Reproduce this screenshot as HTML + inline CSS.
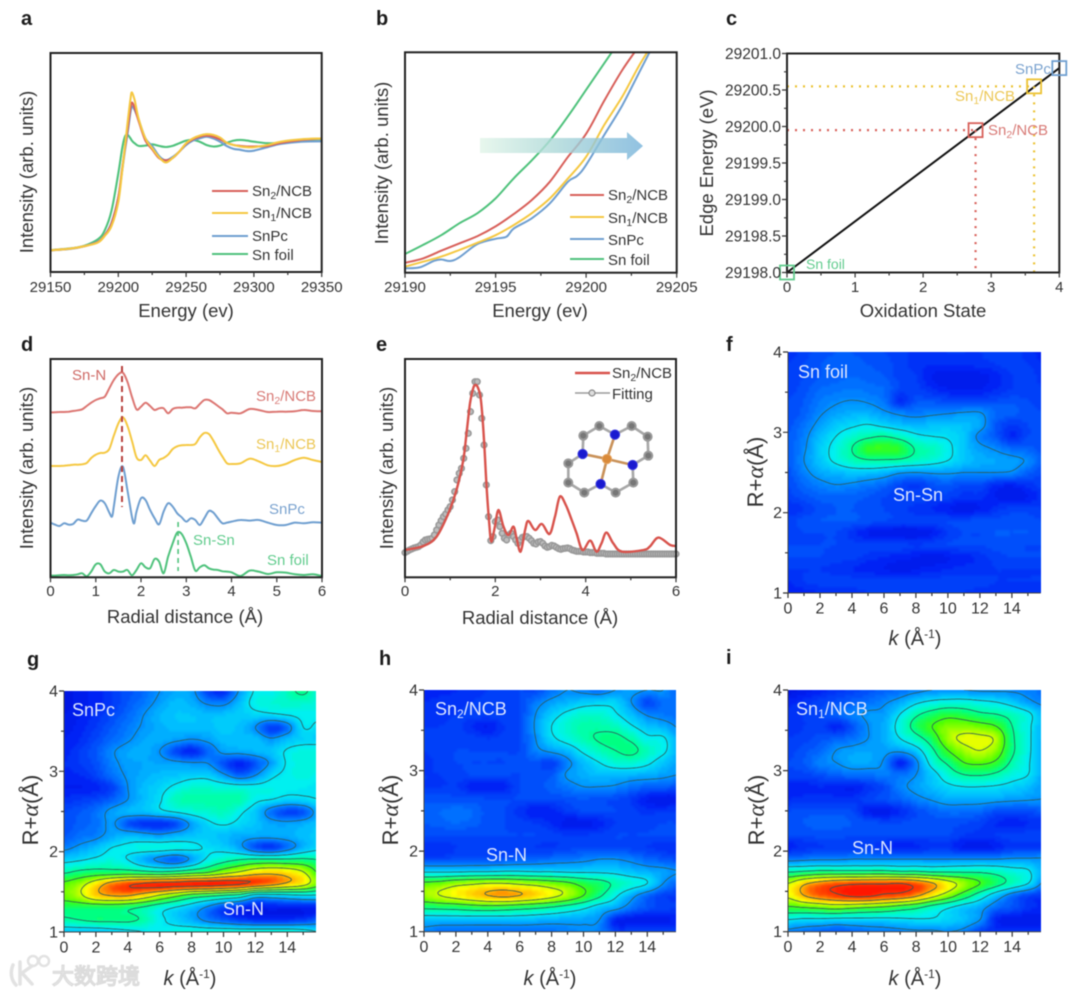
<!DOCTYPE html>
<html lang="en">
<head>
<meta charset="utf-8">
<title>Sn XAS panel figure</title>
<style>
html,body{margin:0;padding:0;background:#fff;width:1080px;height:997px;overflow:hidden}
#fig{display:block;filter:blur(0.45px)}
text{font-family:"Liberation Sans","Noto Sans CJK SC",sans-serif;fill:#333}
.letter{font-weight:bold;font-size:20px;fill:#1c1c1c}
.title{font-size:18.5px}
.htitle{font-size:20px}
.rtitle{font-size:22px}
.leg{font-size:15px}
.lab{font-size:15px}
.hl{font-size:18px;fill:#dde6ff}
.ser{font-family:"Liberation Serif",serif;font-style:italic}
</style>
</head>
<body>
<svg id="fig" xmlns="http://www.w3.org/2000/svg" width="1080" height="997" viewBox="0 0 1080 997">
<defs>
<clipPath id="clipB"><rect x="405" y="52" width="272" height="221"/></clipPath>
<clipPath id="clipF"><rect x="788" y="352" width="253" height="241"/></clipPath>
<clipPath id="clipG"><rect x="64" y="691" width="252" height="241"/></clipPath>
<clipPath id="clipH"><rect x="424" y="690" width="252" height="242"/></clipPath>
<clipPath id="clipI"><rect x="788" y="690" width="253" height="242"/></clipPath>
<filter id="soft" x="-2%" y="-2%" width="104%" height="104%"><feGaussianBlur stdDeviation="1"/></filter>
<linearGradient id="arrowGrad" x1="0" x2="1" y1="0" y2="0"><stop offset="0" stop-color="#e2f5e9"/><stop offset="0.45" stop-color="#add9d8"/><stop offset="1" stop-color="#75b2da"/></linearGradient>
</defs>

<text class="letter" x="21" y="25">a</text>
<text class="letter" x="376" y="25">b</text>
<text class="letter" x="726" y="25">c</text>
<text class="letter" x="21" y="351">d</text>
<text class="letter" x="376" y="351">e</text>
<text class="letter" x="726" y="351">f</text>
<text class="letter" x="27" y="666">g</text>
<text class="letter" x="379" y="665">h</text>
<text class="letter" x="726" y="664">i</text>

<g id="plots"></g>

<polygon points="480,138 627,138 627,132 643,146 627,160 627,153 480,153" fill="url(#arrowGrad)" opacity="0.8"/>

<!-- axis titles -->
<text class="title" x="186" y="317" text-anchor="middle">Energy (ev)</text>
<text class="title" x="540" y="317" text-anchor="middle">Energy (ev)</text>
<text class="title" x="923" y="317" text-anchor="middle">Oxidation State</text>
<text class="title" x="185" y="623" text-anchor="middle">Radial distance (Å)</text>
<text class="title" x="540" y="624" text-anchor="middle">Radial distance (Å)</text>
<text class="title" transform="translate(33,172) rotate(-90)" text-anchor="middle">Intensity (arb. units)</text>
<text class="title" transform="translate(388,163) rotate(-90)" text-anchor="middle">Intensity (arb. units)</text>
<text class="title" transform="translate(713,163) rotate(-90)" text-anchor="middle">Edge Energy (eV)</text>
<text class="title" transform="translate(33,468) rotate(-90)" text-anchor="middle">Intensity (arb. units)</text>
<text class="title" transform="translate(393,468) rotate(-90)" text-anchor="middle">Intensity (arb. units)</text>

<text class="htitle" x="915" y="645" text-anchor="middle"><tspan font-style="italic">k</tspan> (Å<tspan font-size="12" dy="-7">-1</tspan><tspan dy="7">)</tspan></text>
<text class="htitle" x="190" y="985" text-anchor="middle"><tspan font-style="italic">k</tspan> (Å<tspan font-size="12" dy="-7">-1</tspan><tspan dy="7">)</tspan></text>
<text class="htitle" x="550" y="985" text-anchor="middle"><tspan font-style="italic">k</tspan> (Å<tspan font-size="12" dy="-7">-1</tspan><tspan dy="7">)</tspan></text>
<text class="htitle" x="915" y="985" text-anchor="middle"><tspan font-style="italic">k</tspan> (Å<tspan font-size="12" dy="-7">-1</tspan><tspan dy="7">)</tspan></text>
<text class="rtitle" transform="translate(763,472) rotate(-90)" text-anchor="middle">R+<tspan class="ser" font-size="24">α</tspan>(Å)</text>
<text class="rtitle" transform="translate(38,810) rotate(-90)" text-anchor="middle">R+<tspan class="ser" font-size="24">α</tspan>(Å)</text>
<text class="rtitle" transform="translate(398,810) rotate(-90)" text-anchor="middle">R+<tspan class="ser" font-size="24">α</tspan>(Å)</text>
<text class="rtitle" transform="translate(764,810) rotate(-90)" text-anchor="middle">R+<tspan class="ser" font-size="24">α</tspan>(Å)</text>

<!-- legend a -->
<g>
<line x1="212" x2="248" y1="191" y2="191" stroke="#d8605a" stroke-width="2"/>
<text class="leg" x="252" y="196">Sn<tspan font-size="10.5" dy="3">2</tspan><tspan dy="-3">/NCB</tspan></text>
<line x1="212" x2="248" y1="213" y2="213" stroke="#f5c842" stroke-width="2"/>
<text class="leg" x="252" y="218">Sn<tspan font-size="10.5" dy="3">1</tspan><tspan dy="-3">/NCB</tspan></text>
<line x1="212" x2="248" y1="236" y2="236" stroke="#6f9fd0" stroke-width="2"/>
<text class="leg" x="252" y="241">SnPc</text>
<line x1="212" x2="248" y1="254" y2="254" stroke="#4fc27c" stroke-width="2"/>
<text class="leg" x="252" y="260">Sn foil</text>
</g>
<!-- legend b -->
<g>
<line x1="570" x2="604" y1="195" y2="195" stroke="#d8605a" stroke-width="2"/>
<text class="leg" x="608" y="200">Sn<tspan font-size="10.5" dy="3">2</tspan><tspan dy="-3">/NCB</tspan></text>
<line x1="570" x2="604" y1="217" y2="217" stroke="#f5c842" stroke-width="2"/>
<text class="leg" x="608" y="223">Sn<tspan font-size="10.5" dy="3">1</tspan><tspan dy="-3">/NCB</tspan></text>
<line x1="570" x2="604" y1="239" y2="239" stroke="#6f9fd0" stroke-width="2"/>
<text class="leg" x="608" y="245">SnPc</text>
<line x1="570" x2="604" y1="259" y2="259" stroke="#4fc27c" stroke-width="2"/>
<text class="leg" x="608" y="265">Sn foil</text>
</g>

<!-- panel c labels -->
<text class="lab" x="1015" y="74" style="fill:#7ba3cf">SnPc</text>
<text class="lab" x="955" y="101" style="fill:#ecc755">Sn<tspan font-size="10.5" dy="3">1</tspan><tspan dy="-3">/NCB</tspan></text>
<text class="lab" x="988" y="135" style="fill:#d87a76">Sn<tspan font-size="10.5" dy="3">2</tspan><tspan dy="-3">/NCB</tspan></text>
<text class="lab" x="806" y="269" style="fill:#62cc8e;font-size:14px">Sn foil</text>

<!-- panel d labels -->
<text class="lab" x="72" y="380" style="fill:#cf6a66">Sn-N</text>
<text class="lab" x="256" y="401" style="fill:#d87a76">Sn<tspan font-size="10.5" dy="3">2</tspan><tspan dy="-3">/NCB</tspan></text>
<text class="lab" x="256" y="449" style="fill:#ecc755">Sn<tspan font-size="10.5" dy="3">1</tspan><tspan dy="-3">/NCB</tspan></text>
<text class="lab" x="269" y="514" style="fill:#7ba3cf">SnPc</text>
<text class="lab" x="193" y="545" style="fill:#62cc8e">Sn-Sn</text>
<text class="lab" x="267" y="565" style="fill:#62cc8e">Sn foil</text>

<!-- panel e legend -->
<g>
<line x1="575" x2="610" y1="373" y2="373" stroke="#d8534c" stroke-width="2.4"/>
<text class="leg" x="612" y="378">Sn<tspan font-size="10.5" dy="3">2</tspan><tspan dy="-3">/NCB</tspan></text>
<line x1="575" x2="610" y1="393" y2="393" stroke="#999" stroke-width="1.5"/>
<circle cx="592" cy="393" r="3" fill="#ddd" stroke="#888" stroke-width="1.2"/>
<text class="leg" x="612" y="399">Fitting</text>
</g>

<!-- molecule inset -->
<g transform="translate(360,330) scale(0.3333)">
<path d="M670 317L718 288L765 314L815 288L863 320L865 377L818 405M670 317L668 372L625 400L625 458L673 488L722 462L767 488L820 458L818 405" fill="none" stroke="#a8a8a8" stroke-width="8"/>
<path d="M741 387L765 314M741 387L668 372M741 387L818 405M741 387L722 462" fill="none" stroke="#c9925a" stroke-width="8"/>
<g fill="#777" stroke="#9a9a9a" stroke-width="6">
<circle cx="718" cy="288" r="12"/>
<circle cx="815" cy="288" r="12"/>
<circle cx="670" cy="317" r="12"/>
<circle cx="863" cy="320" r="12"/>
<circle cx="865" cy="377" r="12"/>
<circle cx="625" cy="400" r="12"/>
<circle cx="625" cy="458" r="12"/>
<circle cx="673" cy="488" r="12"/>
<circle cx="767" cy="488" r="12"/>
<circle cx="820" cy="458" r="12"/>
</g>
<g fill="#1a1ad0" stroke="#3a3ae0" stroke-width="3">
<circle cx="765" cy="314" r="14"/>
<circle cx="668" cy="372" r="14"/>
<circle cx="818" cy="405" r="14"/>
<circle cx="722" cy="462" r="14"/>
</g>
<circle cx="741" cy="387" r="14" fill="#d98a3a" stroke="#e6a45f" stroke-width="3"/>
</g>

<!-- watermark -->
<g>
<path d="M13 965C10 972 11 980 16 985M20 962L20 984M32 966L22 973L32 984" fill="none" stroke="#e2e2e2" stroke-width="3.5" stroke-linecap="round"/>
<circle cx="33" cy="961" r="5" fill="none" stroke="#e2e2e2" stroke-width="2.5"/>
<circle cx="44" cy="961" r="5" fill="none" stroke="#e2e2e2" stroke-width="2.5"/>
<text x="52" y="984" style="font-size:22px;fill:#f0f0f0;stroke:#dcdcdc;stroke-width:1.4px;font-family:'Liberation Sans','Noto Sans CJK SC',sans-serif">大数跨境</text>
</g>
</svg>

<script>
/* ===== Panel a : XANES ===== */
const aEnergy=[29150,29165,29175,29185,29190,29195,29200,29203,29205,29207,29209,29210,29212,29215,29220,29225,29230,29235,29240,29245,29250,29255,29260,29265,29270,29275,29280,29285,29290,29295,29300,29310,29320,29335,29350];
const aSn2=[9.9,10.7,11.8,13.7,16.8,22,34,48,57,66,75,77.4,75,69,60,56,52,51,52,55,58.5,60.6,61.8,62.3,61.8,60.6,59,58,57.6,57.3,57.3,57.6,59,60.3,61];
const aSn1=[9.9,10.7,11.8,13.5,16.5,21,32,47,58,69,79,82,78.6,70,61,56.5,52.4,50,52,55,58.8,61,62.3,62.9,62.6,61.4,59,58,57.3,57,57,58,59.5,60.6,61];
const aPc=[9.9,10.6,11.8,13.9,16.8,22.5,34,47,56,64,73,75.6,74,69.5,61,57.5,53,51,52.5,55,58,60,61,61.8,61,59.5,57.5,56.2,55.8,55.2,55.4,57,58.5,59.5,59.7];
const aFoil=[10,10.8,12,15,19,28,45,57,62,62.6,61,60,58.8,57.6,57.7,58.3,57.6,57.1,57.6,58.8,60,60.3,59.5,58,57.3,57.7,59,60,60.3,60,59.5,58.8,59,60.3,60.6];
const aTicks=[29150,29200,29250,29300,29350];
const aMinor=[29175,29225,29275,29325];

/* ===== Panel b : edge zoom ===== */
const bEnergy=[29190,29191,29192,29193,29194,29195,29196,29197,29198,29199,29200,29201,29202,29203,29204];
const bFoil=[8.5,12.6,17,22.4,27,33.7,42.8,51,60,71,83,95,107,119,131];
const bSn2=[4.5,6.5,10,13.3,16.6,21,26.6,33,41.3,52.6,63,78,92,104,118];
const bSn1=[2.7,5,7.3,10.3,13.6,17,21.6,27,33.7,42.8,52.6,67,80,95,108];
const bPcEnergy=[29190,29190.8,29191.6,29192,29192.5,29193,29194,29195,29195.6,29196,29197,29198,29199,29199.5,29200,29201,29202,29203,29204];
const bPc=[2,2.4,5.4,6,5.3,7,13,15.4,16.3,20,24.7,31.5,41.3,43.9,48.9,62.5,76,92,108];
const bTicks=[29190,29195,29200,29205];
const bMinor=[29192.5,29197.5,29202.5];

/* ===== Panel c : edge energy vs oxidation state ===== */
const cStates=[0,2.77,3.63,4];
const cEdges=[29198,29199.95,29200.55,29200.8];
const cColors=['#62cc8e','#d8605a','#ecc233','#6f9fd0'];
const cLine=[[0,29198],[4,29200.8]];
const cXTicks=[0,1,2,3,4];
const cYTicks=[29198,29198.5,29199,29199.5,29200,29200.5,29201];

/* ===== Panel d : radial distance ===== */
const dR=[0,.1,.2,.3,.4,.5,.6,.7,.8,.9,1,1.1,1.2,1.3,1.4,1.5,1.6,1.7,1.8,1.9,2,2.1,2.2,2.3,2.4,2.5,2.6,2.7,2.8,2.9,3,3.1,3.2,3.3,3.4,3.5,3.6,3.7,3.8,3.9,4,4.2,4.4,4.6,4.8,5,5.2,5.4,5.6,5.8,6];
const dSn2=[495,495,496,496,497,499,501,504,514,524,532,537,542,567,592,609,614,587,542,504,512,524,514,502,507,507,492,505,509,509,510,510,507,520,532,532,524,514,504,492,494,492,505,502,496,497,497,498,502,499,498];
const dSn1=[334,334,334,335,336,338,338,339,343,358,368,373,374,385,425,462,480,455,410,360,352,366,350,334,352,358,368,385,393,396,397,397,400,420,433,430,410,385,362,342,340,342,356,348,336,334,340,352,359,352,346];
const dPcR=[0,.1,.2,.3,.4,.5,.6,.7,.8,.9,1,1.1,1.2,1.3,1.36,1.4,1.5,1.6,1.7,1.8,1.85,1.9,2,2.1,2.2,2.3,2.4,2.5,2.6,2.7,2.8,2.9,3,3.1,3.2,3.3,3.4,3.5,3.6,3.7,3.8,3.9,4,4.2,4.4,4.6,4.8,5,5.2,5.4,5.6,5.8,6];
const dPc=[164,158,154,162,158,160,173,170,170,192,214,230,222,194,182,212,302,332,262,182,162,197,237,232,202,177,159,197,222,212,192,180,167,177,172,157,177,199,194,177,162,164,167,172,170,172,164,157,157,164,162,165,164];
const dFoil=[5,5,6,7,6,7,9,12,3,17,39,39,17,12,22,17,17,22,6,22,42,30,27,55,47,12,62,102,134,130,102,62,20,30,36,27,23,22,18,17,15,4,20,17,10,15,14,9,7,9,4];
const dTicks=[0,1,2,3,4,5,6];

/* ===== Panel e : fit ===== */
const eR=[0,.41,.7,.96,1.14,1.29,1.37,1.44,1.51,1.56,1.62,1.68,1.75,1.81,1.87,1.9,1.93,1.99,2.07,2.18,2.29,2.4,2.47,2.56,2.66,2.73,2.88,3.03,3.2,3.32,3.43,3.56,3.69,3.8,3.93,4.1,4.24,4.35,4.46,4.61,4.8,5.28,5.42,5.61,5.87,6];
const eSn2=[82,94,122,192,262,352,442,522,567,577,567,532,412,262,152,112,112,152,202,152,127,152,117,77,142,169,142,160,130,182,242,217,172,132,82,110,77,102,134,102,77,82,92,119,97,94];
const eFit=[74,78,82,85,88,90,92,97,106,112,114,115,117,127,142,157,170,182,190,202,212,232,257,292,312,327,357,387,432,497,552,587,587,547,477,397,277,182,110,122,167,172,152,132,117,112,127,132,122,112,102,112,120,122,122,117,110,102,100,106,107,102,94,90,92,96,94,90,86,84,86,87,88,86,82,80,78,78,78,76,76,76,74,74,74,72,72,72,72,70,70,70,70,70,70,70,70,70,70,70,70,70,70,70,70,70,70,70,70,70,70,70,70,70,70,70,70,70,70,70,70];
const eFitStep=0.05;
const eTicks=[0,2,4,6];
const eMinor=[1,3,5];

/* ===== Wavelet heatmaps: columns k=0..16, rows R=4.00 down to 1.00 (step 0.15) ===== */
const kTicks=[0,2,4,6,8,10,12,14];
const rTicks=[1,2,3,4];
const contourLevels=[24,36,48,60,72,84,96];
const fGrid=[
[12,14,16,17,17,16,15,14,12,12,13,13,13,14,14,12,10],
[13,15,17,18,18,17,16,14,12,11,11,11,12,13,14,13,11],
[13,15,17,18,19,18,17,14,13,9,8,8,8,10,13,14,12],
[14,16,19,20,21,20,19,15,14,11,9,9,9,11,13,14,13],
[15,17,21,23,24,23,20,11,16,16,15,14,14,15,16,15,14],
[15,18,23,26,28,28,25,22,21,22,23,24,24,19,18,16,15],
[16,20,26,31,34,36,33,30,29,30,31,30,27,17,13,15,16],
[17,22,30,36,42,46,48,44,38,36,35,31,22,17,11,15,16],
[17,23,32,39,48,58,59,57,47,44,38,31,26,23,19,18,16],
[17,24,31,38,44,47,47,46,43,40,36,31,28,27,26,23,17],
[16,22,27,29,31,31,29,25,24,25,25,24,24,24,23,18,15],
[15,19,22,24,23,21,19,15,13,16,17,15,15,11,10,12,14],
[14,16,18,18,18,17,15,14,15,14,14,12,12,9,8,9,12],
[11,13,16,17,17,16,15,14,12,11,9,8,9,12,14,14,13],
[14,16,17,17,17,16,15,14,14,14,15,15,16,16,16,16,15],
[14,15,15,15,12,9,8,7,7,9,13,15,15,17,17,17,16],
[15,15,15,15,14,14,14,14,13,14,15,15,15,16,16,15,15],
[15,15,15,14,14,12,11,10,9,8,9,10,12,14,15,15,15],
[13,13,13,12,11,10,9,8,9,10,11,12,12,13,13,13,13],
[11,13,14,14,14,14,14,14,14,14,14,14,14,13,13,13,13],
[10,10,11,11,12,13,13,13,13,13,13,13,12,12,12,12,11]];
const gGrid=[
[6,8,10,13,16,19,24,27,26,14,11,25,37,38,44,50,40],
[6,8,10,13,17,21,26,30,28,23,22,30,39,41,42,42,40],
[7,9,12,15,19,24,29,31,31,30,31,32,33,34,36,38,38],
[8,10,13,17,21,25,28,30,30,30,32,30,24,13,20,36,34],
[9,11,15,19,23,27,28,26,24,26,30,30,30,25,30,33,33],
[10,13,17,23,27,28,24,15,10,18,26,27,29,31,37,40,40],
[11,13,16,22,26,27,27,26,25,24,16,10,16,26,37,40,40],
[10,11,14,20,25,28,30,31,33,33,26,19,24,34,38,40,38],
[9,9,10,14,24,30,33,38,42,42,41,40,39,39,38,37,36],
[12,13,15,18,24,30,35,44,46,46,46,46,38,36,33,34,36],
[15,17,20,26,29,30,34,37,40,42,44,38,31,20,14,16,28],
[15,18,20,25,16,12,11,15,26,34,37,34,31,27,26,28,31],
[17,20,22,27,30,28,26,29,31,32,30,28,27,27,28,30,32],
[22,26,30,36,38,40,40,39,38,35,33,27,16,13,20,29,34],
[33,35,38,40,36,28,22,18,26,38,44,48,50,50,50,50,48],
[46,50,52,52,52,50,48,50,54,58,66,72,78,80,78,72,58],
[62,68,78,88,94,97,99,99,100,100,99,97,93,88,82,76,64],
[64,70,80,84,84,78,70,62,54,50,46,42,30,30,32,34,34],
[52,52,52,52,50,46,40,35,30,22,14,10,8,8,8,8,8],
[46,48,50,50,50,46,38,33,28,22,18,14,12,12,12,14,18],
[30,30,30,32,34,36,38,40,42,42,42,42,42,42,42,40,36]];
const hGrid=[
[10,10,11,12,13,14,15,15,20,24,22,20,24,26,24,24,18],
[11,12,12,13,14,14,15,21,26,29,32,33,33,24,15,20,20],
[12,12,13,14,14,15,15,24,32,38,42,42,37,30,23,21,20],
[13,13,14,11,9,13,15,25,36,42,46,46,44,37,31,28,23],
[13,14,14,14,13,14,15,24,34,40,45,49,50,46,38,37,27],
[13,14,15,15,15,15,15,22,26,30,38,44,48,50,44,38,28],
[12,14,15,15,15,15,16,16,14,22,30,36,41,42,38,31,26],
[13,13,14,15,15,15,15,16,17,25,28,30,30,29,28,26,24],
[13,13,13,10,9,10,15,16,18,21,24,24,23,20,18,18,15],
[16,16,16,16,15,15,15,15,15,16,17,16,15,13,9,7,8],
[18,19,20,19,16,15,12,9,10,13,15,15,15,14,12,13,13],
[17,18,19,18,16,15,14,13,11,8,8,10,13,14,14,15,15],
[15,15,15,15,15,15,15,15,14,13,13,14,15,15,15,15,15],
[11,12,13,14,14,14,14,13,13,14,15,15,15,14,13,12,12],
[15,15,16,16,17,17,18,19,20,21,22,24,24,22,19,17,15],
[34,34,34,35,35,36,36,35,35,34,34,34,33,30,28,26,24],
[62,64,68,70,72,72,70,68,65,62,56,52,46,41,36,24,18],
[68,72,76,80,84,86,84,80,75,69,60,50,38,27,19,14,13],
[50,51,52,54,55,54,52,50,47,43,38,31,27,20,16,14,13],
[30,30,30,30,30,30,30,29,28,27,26,24,10,8,8,8,10],
[22,20,20,20,20,20,20,20,20,22,23,22,14,14,14,14,14]];
const iGrid=[
[6,8,10,12,14,16,18,20,22,24,24,24,23,23,23,22,20],
[10,12,14,16,18,20,23,27,34,38,40,40,38,36,32,26,22],
[12,13,15,18,22,25,26,36,46,52,56,54,50,48,44,38,28],
[12,13,14,10,16,24,28,40,52,60,66,66,64,60,48,38,28],
[13,14,16,18,20,24,28,36,44,54,68,74,74,70,50,38,28],
[14,16,19,24,26,27,26,26,32,46,60,68,72,66,50,38,27],
[15,17,22,24,27,27,23,10,22,40,50,60,62,58,46,37,27],
[14,14,16,18,20,20,22,20,24,32,42,48,49,46,40,36,26],
[10,10,11,10,9,12,15,22,26,30,34,36,36,35,33,30,25],
[11,12,12,12,12,14,16,18,22,25,28,28,28,27,26,25,24],
[15,16,16,16,15,9,8,11,15,18,20,20,19,16,15,16,17],
[16,17,18,18,17,16,15,15,16,16,16,15,14,11,10,11,12],
[15,15,16,16,15,15,15,15,15,15,15,13,12,13,14,14,14],
[10,12,13,14,14,14,12,10,11,12,12,9,8,10,13,13,13],
[21,22,23,23,24,24,24,24,24,24,24,24,24,24,25,25,25],
[46,48,50,50,50,50,50,48,48,46,46,46,46,44,40,37,26],
[72,82,88,92,94,95,95,96,92,85,76,68,60,52,44,36,22],
[74,84,90,94,98,98,94,92,86,76,66,54,42,30,20,14,12],
[58,60,62,64,62,60,58,54,50,43,37,31,27,19,16,12,10],
[36,34,34,33,33,33,33,34,35,35,33,30,24,10,8,7,8],
[22,20,18,16,18,20,21,22,23,23,24,22,14,12,12,12,12]];

/* ===== helpers ===== */
const NS='http://www.w3.org/2000/svg';
const root=document.getElementById('plots');
function mk(tag,attrs,parent){
  const el=document.createElementNS(NS,tag);
  for(const k in attrs)el.setAttribute(k,attrs[k]);
  (parent||root).appendChild(el);
  return el;
}
function scale(d0,d1,r0,r1){return v=>r0+(v-d0)*(r1-r0)/(d1-d0);}
function smoothPath(px){
  let d='M'+px[0][0].toFixed(1)+' '+px[0][1].toFixed(1);
  for(let i=0;i<px.length-1;i++){
    const p0=px[Math.max(0,i-1)],p1=px[i],p2=px[i+1],p3=px[Math.min(px.length-1,i+2)];
    const c1=[p1[0]+(p2[0]-p0[0])/6,p1[1]+(p2[1]-p0[1])/6];
    const c2=[p2[0]-(p3[0]-p1[0])/6,p2[1]-(p3[1]-p1[1])/6];
    d+='C'+c1[0].toFixed(1)+' '+c1[1].toFixed(1)+' '+c2[0].toFixed(1)+' '+c2[1].toFixed(1)+' '+p2[0].toFixed(1)+' '+p2[1].toFixed(1);
  }
  return d;
}
function series(xs,ys,sx,sy,color,w,name,clip){
  const px=xs.map((x,i)=>[sx(x),sy(ys[i])]);
  const el=mk('path',{d:smoothPath(px),fill:'none',stroke:color,'stroke-width':w,'stroke-linejoin':'round'});
  if(clip)el.setAttribute('clip-path','url(#'+clip+')');
  
  
  return el;
}
function frame(x0,y0,x1,y1){
  const el=mk('rect',{x:x0,y:y0,width:x1-x0,height:y1-y0,fill:'none',stroke:'#222','stroke-width':2});
  
  
}
function xAxis(sx,yb,ticks,minor,labelY,fs){
  let d='';
  ticks.forEach(t=>{d+='M'+sx(t).toFixed(1)+' '+yb+'v5';});
  minor.forEach(t=>{d+='M'+sx(t).toFixed(1)+' '+yb+'v3';});
  const p=mk('path',{d:d,stroke:'#333','stroke-width':1.2,fill:'none'});
  
  
  ticks.forEach(t=>{
    const el=mk('text',{x:sx(t),y:labelY,'text-anchor':'middle','style':'font-size:'+(fs||15)+'px'});
    el.textContent=String(t);
    
    
  });
}
function yAxis(sy,xl,ticks,minor,fmt,fs){
  let d='';
  ticks.forEach(t=>{d+='M'+xl+' '+sy(t).toFixed(1)+'h-5';});
  minor.forEach(t=>{d+='M'+xl+' '+sy(t).toFixed(1)+'h-3';});
  const p=mk('path',{d:d,stroke:'#333','stroke-width':1.2,fill:'none'});
  
  
  ticks.forEach(t=>{
    const el=mk('text',{x:xl-6,y:sy(t)+5.5,'text-anchor':'end','style':'font-size:'+(fs||15)+'px'});
    el.textContent=fmt?fmt(t):String(t);
    
    
  });
}

/* ---- panel a ---- */
{
  const sx=scale(29150,29350,50.5,321.7),sy=scale(0,100,272,53);
  series(aEnergy,aFoil,sx,sy,'#4fc27c',2.1,'sn-foil-curve');
  series(aEnergy,aPc,sx,sy,'#6f9fd0',2.1,'snpc-curve');
  series(aEnergy,aSn2,sx,sy,'#d8605a',2.1,'sn2-ncb-curve');
  series(aEnergy,aSn1,sx,sy,'#f5c842',2.1,'sn1-ncb-curve');
  frame(50.5,53,321.7,272);
  xAxis(sx,272,aTicks,aMinor,292);
}
/* ---- panel b ---- */
{
  const sx=scale(29190,29205,405,676.7),sy=scale(0,100,272.7,52.3);
  series(bEnergy,bFoil,sx,sy,'#4fc27c',2,'sn-foil-curve','clipB');
  series(bPcEnergy,bPc,sx,sy,'#6f9fd0',2,'snpc-curve','clipB');
  series(bEnergy,bSn1,sx,sy,'#f5c842',2,'sn1-ncb-curve','clipB');
  series(bEnergy,bSn2,sx,sy,'#d8605a',2,'sn2-ncb-curve','clipB');
  frame(405,52.3,676.7,272.7);
  xAxis(sx,272.7,bTicks,bMinor,292);
}
/* ---- panel c ---- */
{
  const sx=scale(0,4,787,1059.3),sy=scale(29198,29201,272.5,53.5);
  const ln=mk('line',{x1:sx(cLine[0][0]),y1:sy(cLine[0][1]),x2:sx(cLine[1][0]),y2:sy(cLine[1][1]),stroke:'#111','stroke-width':2});
  
  
  [1,2].forEach(i=>{
    const px=sx(cStates[i]),py=sy(cEdges[i]);
    const h=mk('line',{x1:sx(0),y1:py,x2:px,y2:py,stroke:cColors[i],'stroke-width':2.2,'stroke-dasharray':'2 6'});
    
    
    const v=mk('line',{x1:px,y1:py,x2:px,y2:sy(29198),stroke:cColors[i],'stroke-width':2.2,'stroke-dasharray':'2 6'});
    
    
  });
  frame(787,53.5,1059.3,272.5);
  cStates.forEach((s,i)=>{
    const r=mk('rect',{x:sx(s)-7,y:sy(cEdges[i])-7,width:14,height:14,fill:'none',stroke:cColors[i],'stroke-width':1.8});
    
    
  });
  xAxis(sx,272.5,cXTicks,[.5,1.5,2.5,3.5],292);
  yAxis(sy,787,cYTicks,[29198.25,29198.75,29199.25,29199.75,29200.25,29200.75],t=>t.toFixed(1),15.5);
}
/* ---- panel d ---- */
{
  const sx=scale(0,6,50.5,322),sy=scale(0,655,577.3,359);
  series(dR,dSn2,sx,sy,'#dc7672',2,'sn2-ncb-curve');
  series(dR,dSn1,sx,sy,'#f5c842',2,'sn1-ncb-curve');
  series(dPcR,dPc,sx,sy,'#6f9fd0',2,'snpc-curve');
  series(dR,dFoil,sx,sy,'#4fc27c',2,'sn-foil-curve');
  const d1=mk('line',{x1:sx(1.58),x2:sx(1.58),y1:366,y2:507,stroke:'#b8403c','stroke-width':2,'stroke-dasharray':'6 4'});
  
  
  const d2=mk('line',{x1:sx(2.82),x2:sx(2.82),y1:522,y2:571,stroke:'#4fc27c','stroke-width':1.6,'stroke-dasharray':'5 4'});
  
  
  frame(50.5,359,322,577.3);
  xAxis(sx,577.3,dTicks,[],596);
}
/* ---- panel e ---- */
{
  const sx=scale(0,6,405,676),sy=scale(0,655,577.3,359);
  eFit.forEach((v,i)=>{
    const c=mk('circle',{cx:sx(i*eFitStep),cy:sy(v),r:2.8,fill:'#bdbdbd',stroke:'#999','stroke-width':1.6});
    
    
  });
  series(eR,eSn2,sx,sy,'#d8534c',2.4,'sn2-ncb-curve');
  frame(405,359,676,577.3);
  xAxis(sx,577.3,eTicks,eMinor,596);
}

/* ---- heatmaps ---- */
const cmapStops=[[0,0,0,200],[10,0,32,245],[20,0,112,255],[30,0,190,255],[38,0,240,240],[46,0,255,170],[50,0,255,130],[56,30,255,60],[62,80,255,0],[70,180,255,0],[76,255,255,0],[84,255,176,0],[92,255,70,0],[100,255,20,0]];
function cmap(v){
  v=Math.max(0,Math.min(100,v));
  v=Math.round(v/2)*2;
  for(let i=1;i<cmapStops.length;i++){
    if(v<=cmapStops[i][0]){
      const a=cmapStops[i-1],b=cmapStops[i],t=(v-a[0])/(b[0]-a[0]);
      return 'rgb('+Math.round(a[1]+t*(b[1]-a[1]))+','+Math.round(a[2]+t*(b[2]-a[2]))+','+Math.round(a[3]+t*(b[3]-a[3]))+')';
    }
  }
  return 'rgb(255,20,0)';
}
function cr(p0,p1,p2,p3,t){return 0.5*(2*p1+(p2-p0)*t+(2*p0-5*p1+4*p2-p3)*t*t+(3*p1-p0-3*p2+p3)*t*t*t);}
function sampler(grid){
  const nr=grid.length,nc=grid[0].length;
  const at=(r,c)=>grid[Math.max(0,Math.min(nr-1,r))][Math.max(0,Math.min(nc-1,c))];
  return (k,R)=>{
    const u=Math.max(0,Math.min(nc-1.0001,k)),w=Math.max(0,Math.min(nr-1.0001,(4-R)/0.15));
    const c=Math.floor(u),r=Math.floor(w),tu=u-c,tw=w-r,col=[];
    for(let j=-1;j<=2;j++)col.push(cr(at(r+j,c-1),at(r+j,c),at(r+j,c+1),at(r+j,c+2),tu));
    return cr(col[0],col[1],col[2],col[3],tw);
  };
}
function heatmap(grid,x0,x1,y0,y1,clipId,texts,panel){
  const kMax=15.8;
  const sx=scale(0,kMax,x0,x1),sy=scale(1,4,y1,y0);
  const f=sampler(grid);
  const wrap=mk('g',{'clip-path':'url(#'+clipId+')'});
  
  
  const g=mk('g',{filter:'url(#soft)'},wrap);
  
  
  const cell=3;
  const dk=cell*kMax/(x1-x0),dR=cell*3/(y1-y0);
  for(let k=-dk;k<kMax+dk;k+=dk){
    for(let R=1-dR;R<4+dR;R+=dR){
      const r=mk('rect',{x:sx(k).toFixed(1),y:sy(R+dR).toFixed(1),width:(sx(k+dk)-sx(k)+0.3).toFixed(1),height:(sy(R)-sy(R+dR)+0.3).toFixed(1),fill:cmap(f(k+dk/2,R+dR/2))},g);
      
      
    }
  }
  /* contours by marching squares */
  const step=1.5,cols=Math.ceil((x1-x0)/step)+1,rows=Math.ceil((y1-y0)/step)+1;
  const vals=[];
  for(let j=0;j<rows;j++){
    const row=[];
    for(let i=0;i<cols;i++){
      row.push(f((i*step)*kMax/(x1-x0),4-(j*step)*3/(y1-y0)));
    }
    vals.push(row);
  }
  contourLevels.forEach(L=>{
    let d='';
    for(let j=0;j<rows-1;j++){
      for(let i=0;i<cols-1;i++){
        const a=vals[j][i],b=vals[j][i+1],c=vals[j+1][i+1],e=vals[j+1][i];
        const xL=x0+i*step,yT=y0+j*step;
        const pts=[];
        if((a<L)!==(b<L))pts.push([xL+step*(L-a)/(b-a),yT]);
        if((b<L)!==(c<L))pts.push([xL+step,yT+step*(L-b)/(c-b)]);
        if((e<L)!==(c<L))pts.push([xL+step*(L-e)/(c-e),yT+step]);
        if((a<L)!==(e<L))pts.push([xL,yT+step*(L-a)/(e-a)]);
        for(let q=0;q+1<pts.length;q+=2){
          d+='M'+pts[q][0].toFixed(1)+' '+pts[q][1].toFixed(1)+'L'+pts[q+1][0].toFixed(1)+' '+pts[q+1][1].toFixed(1);
        }
      }
    }
    if(d){
      const p=mk('path',{d:d,fill:'none',stroke:'#2f5a58','stroke-width':0.9,opacity:0.9},wrap);
      
      
    }
  });
  const ax=mk('path',{d:'M'+x0+' '+y0+'V'+y1+'H'+x1,fill:'none',stroke:'#444','stroke-width':1});
  
  
  xAxis(sx,y1,kTicks,[1,3,5,7,9,11,13,15],y1+20.5,16);
  yAxis(sy,x0,rTicks,[1.5,2.5,3.5],null,16);
  texts.forEach(t=>{
    const el=mk('text',{x:t[0],y:t[1],class:'hl'});
    if(t[3]){
      el.appendChild(document.createTextNode('Sn'));
      const s=mk('tspan',{'font-size':12,dy:3},el);
      s.textContent=t[3];
      
      
      const u=mk('tspan',{dy:-3},el);
      u.textContent='/NCB';
      
      
    }else{
      el.textContent=t[2];
    }
    
    
  });
}
heatmap(fGrid,788,1040.7,352,593,'clipF',[[798,378,'Sn foil'],[893,501,'Sn-Sn']],'f');
heatmap(gGrid,64,316,691,932,'clipG',[[72,716,'SnPc'],[223,915,'Sn-N']],'g');
heatmap(hGrid,424,676,690,931.7,'clipH',[[435,715,'',"2"],[486,861,'Sn-N']],'h');
heatmap(iGrid,788,1041,690,931.7,'clipI',[[796,715,'',"1"],[852,854,'Sn-N']],'i');
</script>
</body>
</html>
